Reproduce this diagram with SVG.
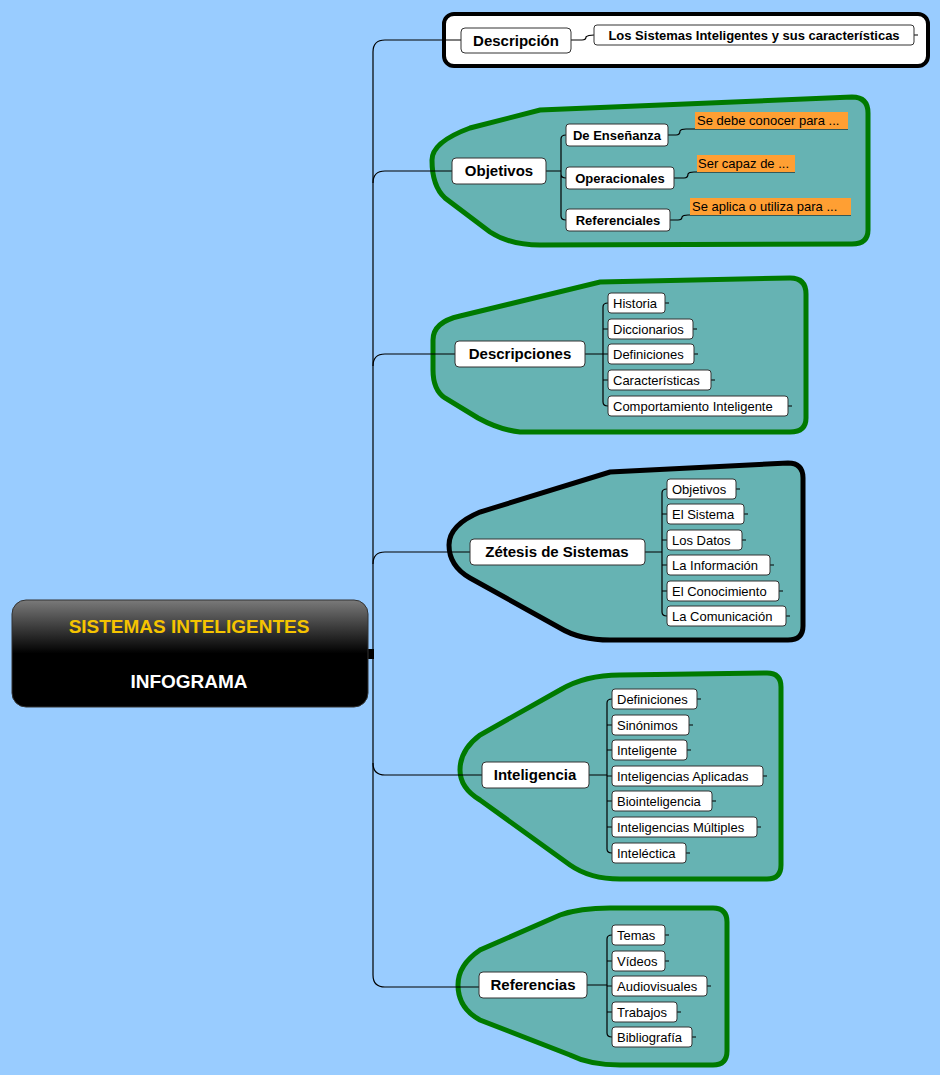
<svg xmlns="http://www.w3.org/2000/svg" width="940" height="1075" viewBox="0 0 940 1075">
<defs>
<linearGradient id="rg" x1="0" y1="0" x2="0" y2="1"><stop offset="0" stop-color="#7a7a7a"/><stop offset="0.5" stop-color="#000"/><stop offset="1" stop-color="#000"/></linearGradient>
</defs>
<style>
.bd{fill:#66b3b3;stroke:#007a00;stroke-width:5}
.bk{fill:#66b3b3;stroke:#000;stroke-width:5}
.n{fill:#fff;stroke:#333;stroke-width:1}
.m{font-family:"Liberation Sans",Arial,sans-serif;font-weight:bold;font-size:15px;fill:#000}
.c{font-family:"Liberation Sans",Arial,sans-serif;font-size:13px;fill:#000}
.cb{font-family:"Liberation Sans",Arial,sans-serif;font-size:13px;font-weight:bold;fill:#000}
.o{fill:#ff9f33}
.l{fill:none;stroke:#000;stroke-width:1.2}
</style>
<rect width="940" height="1075" fill="#99ccff"/>
<g id="boundaries">
<rect x="444" y="14" width="484" height="52" rx="10" fill="#fff" stroke="#000" stroke-width="4"/>
<path class="bd" d="M432,160 Q432,142 470,128 L540,110 L852,97 Q868,97 868,113 L868,230 Q868,244 852,244 L540,245 Q510,245 490,232 L445,198 Q432,186 432,160 Z"/>
<path class="bd" d="M433,340 Q433,322 460,316 L600,282 L790,278 Q806,278 806,294 L806,418 Q806,432 790,432 L520,432 Q500,430 478,418 L445,398 Q433,390 433,370 Z"/>
<path class="bk" d="M449,545 Q449,525 480,512 L610,472 L788,463 Q803,463 803,478 L803,626 Q803,640 788,640 L610,640 Q580,640 560,628 L470,578 Q449,566 449,545 Z"/>
<path class="bd" d="M460,770 Q460,750 480,735 L560,690 Q585,675 620,675 L767,673 Q781,673 781,687 L781,865 Q781,879 767,879 L620,879 Q590,879 570,865 L480,800 Q460,788 460,770 Z"/>
<path class="bd" d="M458,985 Q458,965 480,950 L560,915 Q580,908 610,908 L713,908 Q727,908 727,922 L727,1051 Q727,1065 713,1065 L620,1065 Q590,1065 570,1055 L480,1020 Q458,1008 458,985 Z"/>
</g>
<g id="connectors">
<rect x="366" y="649" width="8" height="10" fill="#000"/>
<path class="l" d="M461,40 H385 Q373,40 373,52 V975 Q373,987 385,987 H479"/>
<path class="l" d="M373,183 Q373,171 385,171 H452"/>
<path class="l" d="M373,366 Q373,354 385,354 H455"/>
<path class="l" d="M373,564 Q373,552 385,552 H470"/>
<path class="l" d="M373,763 Q373,775 385,775 H482"/>
<path class="l" d="M571,40 H582 Q586,40 586,37 Q588,35 594,35"/>
<path class="l" d="M546,171 H561 M561,171 V139 Q561,135 566,135 M561,171 V174 Q561,178 566,178 M561,171 V216 Q561,220 566,220"/>
<path class="l" d="M668,135 H676 Q680,135 680,131 Q681,129 686,129 H848 M674,178 H684 Q688,178 688,174 Q689,172 694,172 H795 M670,220 H678 Q682,220 682,217 Q683,215 688,215 H851"/>
<path class="l" d="M585,354 H603 M603,354 V307 Q603,303 608,303 M603,329 Q603,329 608,329 M603,354 H608 M603,354 V402 Q603,406 608,406 M603,380 H608 M603,329 H608"/>
<path class="l" d="M645,552 H662 M662,552 V493 Q662,489 667,489 M662,514 H667 M662,540 H667 M662,565 H667 M662,591 H667 M662,552 V612 Q662,616 667,616"/>
<path class="l" d="M589,775 H607 M607,775 V703 Q607,699 612,699 M607,725 H612 M607,750 H612 M607,776 H612 M607,801 H612 M607,827 H612 M607,775 V849 Q607,853 612,853"/>
<path class="l" d="M587,985 H607 M607,985 V939 Q607,935 612,935 M607,961 H612 M607,986 H612 M607,1012 H612 M607,985 V1033 Q607,1037 612,1037"/>
<path class="l" d="M665,303h4M693,329h4M694,354h4M711,380h4M788,406h4M736,489h4M744,514h4M742,540h4M770,565h4M779,591h4M786,616h4M697,699h4M689,725h4M687,750h4M763,776h4M712,801h4M757,827h4M686,853h4M665,935h4M665,961h4M707,986h4M677,1012h4M692,1037h4M914,35h4"/>
</g>
<g id="root">
<rect x="12" y="600" width="356" height="107" rx="14" fill="url(#rg)" stroke="#333"/>
<text x="189" y="633" text-anchor="middle" font-family="'Liberation Sans',Arial,sans-serif" font-weight="bold" font-size="19" fill="#f5c400">SISTEMAS INTELIGENTES</text>
<text x="189" y="688" text-anchor="middle" font-family="'Liberation Sans',Arial,sans-serif" font-weight="bold" font-size="19" fill="#fff">INFOGRAMA</text>
</g>
<g id="n-descripcion">
<rect class="n" x="461" y="28" width="110" height="25" rx="4"/><text class="m" x="516" y="46" text-anchor="middle">Descripción</text>
<rect class="n" x="594" y="25" width="320" height="20" rx="3"/><text class="cb" x="754" y="40" text-anchor="middle">Los Sistemas Inteligentes y sus características</text>
</g>
<g id="n-objetivos">
<rect class="n" x="452" y="158" width="94" height="26" rx="4"/><text class="m" x="499" y="176" text-anchor="middle">Objetivos</text>
<rect class="n" x="566" y="124" width="102" height="22" rx="3"/><text class="cb" x="617" y="140" text-anchor="middle">De Enseñanza</text>
<rect class="n" x="566" y="167" width="108" height="22" rx="3"/><text class="cb" x="620" y="183" text-anchor="middle">Operacionales</text>
<rect class="n" x="566" y="209" width="104" height="22" rx="3"/><text class="cb" x="618" y="225" text-anchor="middle">Referenciales</text>
<rect class="o" x="695" y="112" width="153" height="17"/><text class="c" x="697" y="125">Se debe conocer para ...</text>
<rect class="o" x="697" y="155" width="98" height="17"/><text class="c" x="698" y="168">Ser capaz de ...</text>
<rect class="o" x="690" y="198" width="161" height="17"/><text class="c" x="692" y="211">Se aplica o utiliza para ...</text>
</g>
<g id="n-descripciones">
<rect class="n" x="455" y="341" width="130" height="26" rx="4"/><text class="m" x="520" y="359" text-anchor="middle">Descripciones</text>
<rect class="n" x="608" y="293" width="57" height="20" rx="3"/><text class="c" x="613" y="308">Historia</text>
<rect class="n" x="608" y="319" width="85" height="20" rx="3"/><text class="c" x="613" y="334">Diccionarios</text>
<rect class="n" x="608" y="344" width="86" height="20" rx="3"/><text class="c" x="613" y="359">Definiciones</text>
<rect class="n" x="608" y="370" width="103" height="20" rx="3"/><text class="c" x="613" y="385">Características</text>
<rect class="n" x="608" y="396" width="180" height="20" rx="3"/><text class="c" x="613" y="411">Comportamiento Inteligente</text>
</g>
<g id="n-zetesis">
<rect class="n" x="470" y="539" width="175" height="26" rx="4"/><text class="m" x="557" y="557" text-anchor="middle">Zétesis de Sistemas</text>
<rect class="n" x="667" y="479" width="69" height="20" rx="3"/><text class="c" x="672" y="494">Objetivos</text>
<rect class="n" x="667" y="504" width="77" height="20" rx="3"/><text class="c" x="672" y="519">El Sistema</text>
<rect class="n" x="667" y="530" width="75" height="20" rx="3"/><text class="c" x="672" y="545">Los Datos</text>
<rect class="n" x="667" y="555" width="103" height="20" rx="3"/><text class="c" x="672" y="570">La Información</text>
<rect class="n" x="667" y="581" width="112" height="20" rx="3"/><text class="c" x="672" y="596">El Conocimiento</text>
<rect class="n" x="667" y="606" width="119" height="20" rx="3"/><text class="c" x="672" y="621">La Comunicación</text>
</g>
<g id="n-inteligencia">
<rect class="n" x="482" y="762" width="107" height="26" rx="4"/><text class="m" x="535" y="780" text-anchor="middle">Inteligencia</text>
<rect class="n" x="612" y="689" width="85" height="20" rx="3"/><text class="c" x="617" y="704">Definiciones</text>
<rect class="n" x="612" y="715" width="77" height="20" rx="3"/><text class="c" x="617" y="730">Sinónimos</text>
<rect class="n" x="612" y="740" width="75" height="20" rx="3"/><text class="c" x="617" y="755">Inteligente</text>
<rect class="n" x="612" y="766" width="151" height="20" rx="3"/><text class="c" x="617" y="781">Inteligencias Aplicadas</text>
<rect class="n" x="612" y="791" width="100" height="20" rx="3"/><text class="c" x="617" y="806">Biointeligencia</text>
<rect class="n" x="612" y="817" width="145" height="20" rx="3"/><text class="c" x="617" y="832">Inteligencias Múltiples</text>
<rect class="n" x="612" y="843" width="74" height="20" rx="3"/><text class="c" x="617" y="858">Inteléctica</text>
</g>
<g id="n-referencias">
<rect class="n" x="479" y="972" width="108" height="26" rx="4"/><text class="m" x="533" y="990" text-anchor="middle">Referencias</text>
<rect class="n" x="612" y="925" width="53" height="20" rx="3"/><text class="c" x="617" y="940">Temas</text>
<rect class="n" x="612" y="951" width="53" height="20" rx="3"/><text class="c" x="617" y="966">Vídeos</text>
<rect class="n" x="612" y="976" width="95" height="20" rx="3"/><text class="c" x="617" y="991">Audiovisuales</text>
<rect class="n" x="612" y="1002" width="65" height="20" rx="3"/><text class="c" x="617" y="1017">Trabajos</text>
<rect class="n" x="612" y="1027" width="80" height="20" rx="3"/><text class="c" x="617" y="1042">Bibliografía</text>
</g>
</svg>
